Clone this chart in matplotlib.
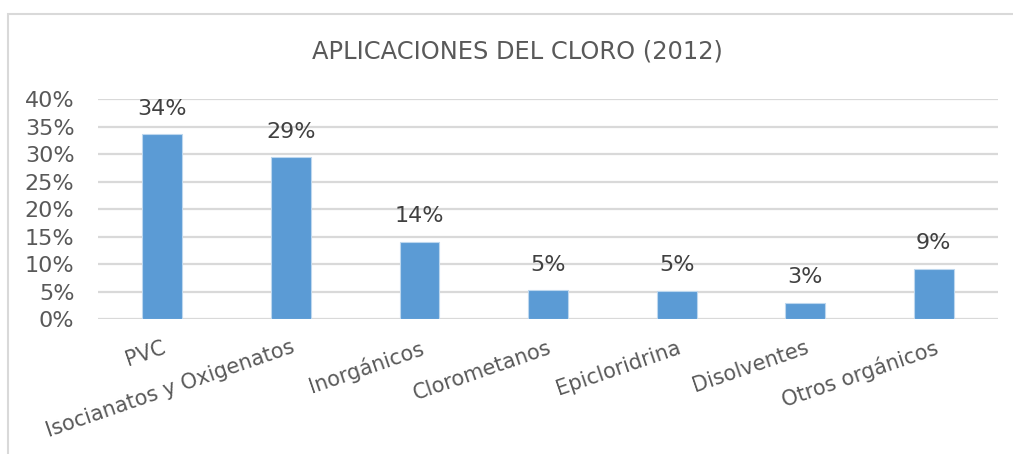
import matplotlib
matplotlib.use("Agg")
import matplotlib.pyplot as plt
from matplotlib.patches import Rectangle

categories = ["PVC", "Isocianatos y Oxigenatos", "Inorgánicos", "Clorometanos",
              "Epicloridrina", "Disolventes", "Otros orgánicos"]
values = [33.6, 29.4, 14.1, 5.3, 5.2, 3.0, 9.2]
labels = ["34%", "29%", "14%", "5%", "5%", "3%", "9%"]
yticks = [0, 5, 10, 15, 20, 25, 30, 35, 40]
title = "APLICACIONES DEL CLORO (2012)"

W, H = 1013, 454
fig = plt.figure(figsize=(W / 100, H / 100), dpi=100)
fig.patch.set_facecolor("white")

# chart border
fig.patches.append(Rectangle((8 / W, -0.1), 1.2, 1 - 14 / H + 0.1,
                             transform=fig.transFigure, fill=False,
                             edgecolor="#D9D9D9", linewidth=1.5))

ax = fig.add_axes([98 / W, 1 - 319.3 / H, 900 / W, 220.3 / H])
x = list(range(len(categories)))
ax.bar(x, values, width=0.31, color="#5B9BD5", edgecolor="#BDD7EE",
       linewidth=0.8, zorder=3)
ax.set_xlim(-0.5, len(categories) - 0.5)
ax.set_ylim(0, 40)
ax.set_yticks(yticks)
ax.set_yticklabels([f"{t}%" for t in yticks], fontsize=16, color="#595959")
ax.yaxis.grid(True, color="#D9D9D9", linewidth=1.6, zorder=0)
ax.tick_params(axis="y", length=0, pad=17)
ax.tick_params(axis="x", length=0, pad=6)
for s in ax.spines.values():
    s.set_visible(False)
ax.set_xticks(x)
ax.set_xticklabels([])

for xi, cat in zip(x, categories):
    ax.annotate(cat, xy=(xi, 0), xycoords=("data", "axes fraction"),
                xytext=(0, -13), textcoords="offset points",
                ha="right", va="top", rotation=19, rotation_mode="anchor",
                fontsize=15, color="#595959")

for xi, v, lab in zip(x, values, labels):
    ax.annotate(lab, xy=(xi, v), xytext=(0, 11), textcoords="offset points",
                ha="center", va="bottom", fontsize=16, color="#404040")

fig.text(517 / W, 1 - 51 / H, title, ha="center", va="center",
         fontsize=17.4, color="#595959")

fig.savefig("out.png", dpi=100, facecolor="white")
